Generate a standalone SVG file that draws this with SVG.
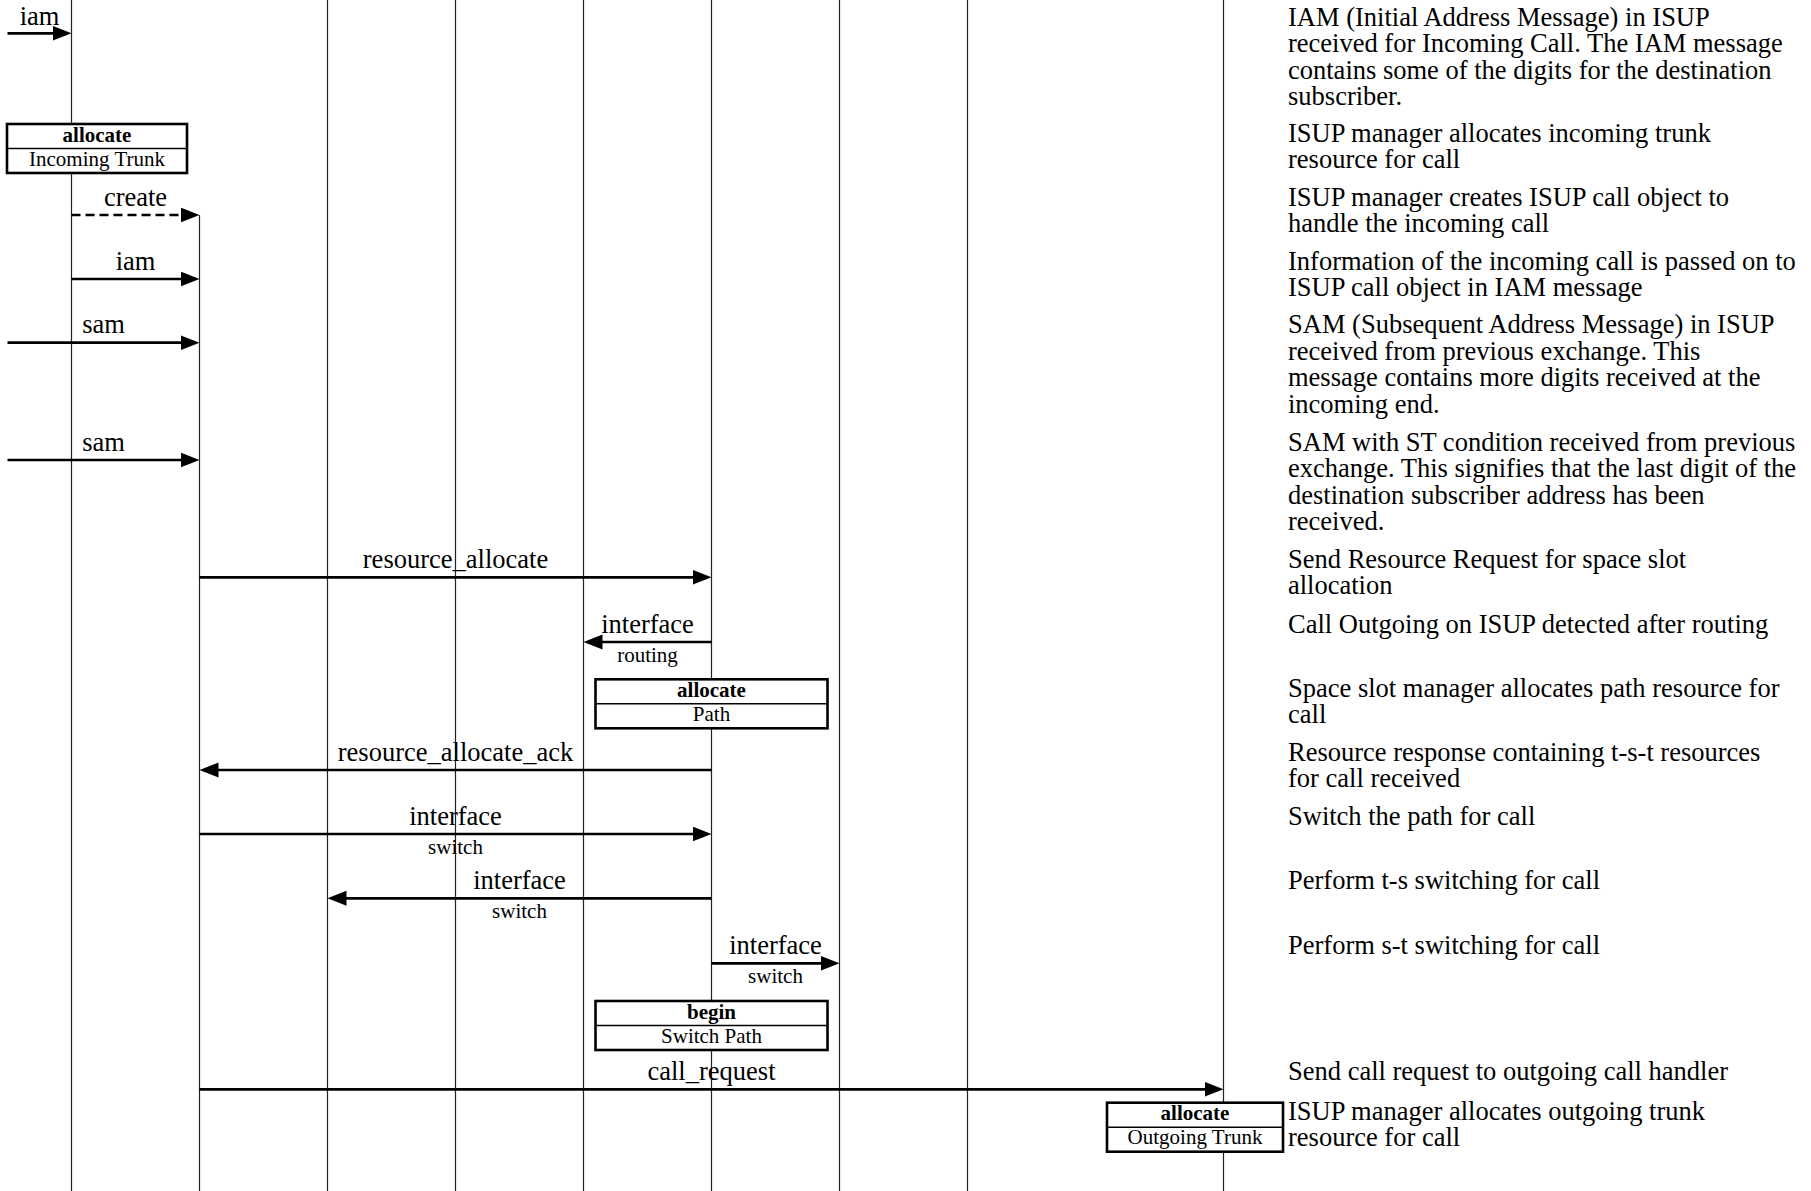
<svg xmlns="http://www.w3.org/2000/svg" width="1811" height="1191" viewBox="0 0 1811 1191">
<style>
.life{stroke:#222;stroke-width:1.2;fill:none}
.msg{stroke:#000;stroke-width:2.7;fill:none;marker-end:url(#ah)}
.dash{stroke-dasharray:9,5}
.lbl{font-family:"Liberation Serif","Times New Roman",serif;font-size:26.5px;fill:#000;text-anchor:middle}
.sub{font-family:"Liberation Serif","Times New Roman",serif;font-size:21px;fill:#000;text-anchor:middle}
.box{fill:#fff;stroke:#000;stroke-width:2.6}
.div{stroke:#000;stroke-width:1.6}
.bt{font-family:"Liberation Serif","Times New Roman",serif;font-size:21px;fill:#000;text-anchor:middle}
.bold{font-weight:bold}
.desc{font-family:"Liberation Serif","Times New Roman",serif;font-size:26.5px;fill:#000}
</style>
<defs>
<marker id="ah" markerUnits="userSpaceOnUse" markerWidth="20" markerHeight="16" refX="13" refY="7.5" orient="auto">
<path d="M0,0 L19,7.5 L0,15 z" fill="#000"/>
</marker>
</defs>
<g id="lifelines">
<line class="life" x1="71.5" y1="0" x2="71.5" y2="1191"/>
<line class="life" x1="199.5" y1="215" x2="199.5" y2="1191"/>
<line class="life" x1="327.5" y1="0" x2="327.5" y2="1191"/>
<line class="life" x1="455.5" y1="0" x2="455.5" y2="1191"/>
<line class="life" x1="583.5" y1="0" x2="583.5" y2="1191"/>
<line class="life" x1="711.5" y1="0" x2="711.5" y2="1191"/>
<line class="life" x1="839.5" y1="0" x2="839.5" y2="1191"/>
<line class="life" x1="967.5" y1="0" x2="967.5" y2="1191"/>
<line class="life" x1="1223.5" y1="0" x2="1223.5" y2="1191"/>
</g>
<g id="connectors">
<line class="msg" x1="7.5" y1="33.3" x2="65.5" y2="33.3"/>
<text class="lbl" x="39.5" y="25">iam</text>
<line class="msg dash" x1="71.5" y1="215" x2="193.5" y2="215"/>
<text class="lbl" x="135.5" y="205.5">create</text>
<line class="msg" x1="71.5" y1="279" x2="193.5" y2="279"/>
<text class="lbl" x="135.5" y="270">iam</text>
<line class="msg" x1="7.5" y1="342.7" x2="193.5" y2="342.7"/>
<text class="lbl" x="103.5" y="333.2">sam</text>
<line class="msg" x1="7.5" y1="460" x2="193.5" y2="460"/>
<text class="lbl" x="103.5" y="450.5">sam</text>
<line class="msg" x1="199.5" y1="577.3" x2="705.5" y2="577.3"/>
<text class="lbl" x="455.5" y="567.8">resource_allocate</text>
<line class="msg" x1="711.5" y1="642" x2="589.5" y2="642"/>
<text class="lbl" x="647.5" y="632.5">interface</text>
<text class="sub" x="647.5" y="661.5">routing</text>
<line class="msg" x1="711.5" y1="770" x2="205.5" y2="770"/>
<text class="lbl" x="455.5" y="760.5">resource_allocate_ack</text>
<line class="msg" x1="199.5" y1="834" x2="705.5" y2="834"/>
<text class="lbl" x="455.5" y="824.5">interface</text>
<text class="sub" x="455.5" y="853.5">switch</text>
<line class="msg" x1="711.5" y1="898.3" x2="333.5" y2="898.3"/>
<text class="lbl" x="519.5" y="888.8">interface</text>
<text class="sub" x="519.5" y="918">switch</text>
<line class="msg" x1="711.5" y1="963.3" x2="833.5" y2="963.3"/>
<text class="lbl" x="775.5" y="953.8">interface</text>
<text class="sub" x="775.5" y="982.8">switch</text>
<line class="msg" x1="199.5" y1="1089.3" x2="1217.5" y2="1089.3"/>
<text class="lbl" x="711.5" y="1079.8">call_request</text>
</g>
<g id="box-incoming-trunk">
<rect class="box" x="7" y="124" width="180" height="49"/>
<line class="div" x1="7" y1="148.5" x2="187" y2="148.5"/>
<text class="bt bold" x="97" y="141.7">allocate</text>
<text class="bt" x="97" y="165.7">Incoming Trunk</text>
</g>
<g id="box-path">
<rect class="box" x="595.5" y="679.3" width="232" height="49"/>
<line class="div" x1="595.5" y1="703.8" x2="827.5" y2="703.8"/>
<text class="bt bold" x="711.5" y="697">allocate</text>
<text class="bt" x="711.5" y="721">Path</text>
</g>
<g id="box-switch-path">
<rect class="box" x="595.5" y="1001" width="232" height="49"/>
<line class="div" x1="595.5" y1="1025.5" x2="827.5" y2="1025.5"/>
<text class="bt bold" x="711.5" y="1018.7">begin</text>
<text class="bt" x="711.5" y="1042.7">Switch Path</text>
</g>
<g id="box-outgoing-trunk">
<rect class="box" x="1107" y="1102.7" width="176" height="49"/>
<line class="div" x1="1107" y1="1127.2" x2="1283" y2="1127.2"/>
<text class="bt bold" x="1195" y="1120.4">allocate</text>
<text class="bt" x="1195" y="1144.4">Outgoing Trunk</text>
</g>
<g id="descriptions" class="desc">
<text x="1288" y="25.5">IAM (Initial Address Message) in ISUP<tspan x="1288" dy="26.6">received for Incoming Call. The IAM message</tspan><tspan x="1288" dy="26.6">contains some of the digits for the destination</tspan><tspan x="1288" dy="26.6">subscriber.</tspan></text>
<text x="1288" y="141.7">ISUP manager allocates incoming trunk<tspan x="1288" dy="26.6">resource for call</tspan></text>
<text x="1288" y="205.5">ISUP manager creates ISUP call object to<tspan x="1288" dy="26.6">handle the incoming call</tspan></text>
<text x="1288" y="269.8">Information of the incoming call is passed on to<tspan x="1288" dy="26.6">ISUP call object in IAM message</tspan></text>
<text x="1288" y="333.2">SAM (Subsequent Address Message) in ISUP<tspan x="1288" dy="26.6">received from previous exchange. This</tspan><tspan x="1288" dy="26.6">message contains more digits received at the</tspan><tspan x="1288" dy="26.6">incoming end.</tspan></text>
<text x="1288" y="450.5">SAM with ST condition received from previous<tspan x="1288" dy="26.6">exchange. This signifies that the last digit of the</tspan><tspan x="1288" dy="26.6">destination subscriber address has been</tspan><tspan x="1288" dy="26.6">received.</tspan></text>
<text x="1288" y="567.8">Send Resource Request for space slot<tspan x="1288" dy="26.6">allocation</tspan></text>
<text x="1288" y="632.5">Call Outgoing on ISUP detected after routing</text>
<text x="1288" y="696.5">Space slot manager allocates path resource for<tspan x="1288" dy="26.6">call</tspan></text>
<text x="1288" y="760.5">Resource response containing t-s-t resources<tspan x="1288" dy="26.6">for call received</tspan></text>
<text x="1288" y="824.5">Switch the path for call</text>
<text x="1288" y="888.8">Perform t-s switching for call</text>
<text x="1288" y="953.8">Perform s-t switching for call</text>
<text x="1288" y="1079.8">Send call request to outgoing call handler</text>
<text x="1288" y="1119.5">ISUP manager allocates outgoing trunk<tspan x="1288" dy="26.6">resource for call</tspan></text>
</g>
</svg>
